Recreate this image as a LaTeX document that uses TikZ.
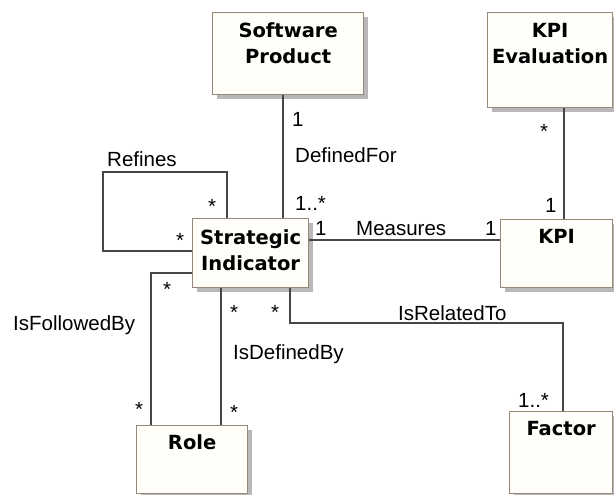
\documentclass[tikz,border=0pt]{standalone}
\usepackage{fontspec}
\setmainfont{Liberation Sans}
\newfontfamily\ttlfont{DejaVu Sans}
\usetikzlibrary{shadows}
\definecolor{clsfill}{RGB}{255,254,249}
\definecolor{clsline}{RGB}{150,135,120}
\definecolor{assocline}{RGB}{70,70,70}

\begin{document}
\begin{tikzpicture}[x=1pt,y=-1pt,font=\fontsize{20.5}{24}\selectfont,
  cls/.style={draw=clsline,line width=1.3pt,fill=clsfill,anchor=north west,inner sep=0pt,
    general shadow={fill=black!28,shadow xshift=4pt,shadow yshift=-4pt}},
  ttl/.style={font=\ttlfont\bfseries\fontsize{19.5}{26}\selectfont,align=center,anchor=north,inner sep=0pt},
  lbl/.style={anchor=base west,inner sep=0pt},
  assoc/.style={draw=assocline,line width=1.1pt}]
\useasboundingbox (0,0) rectangle (614,495);
% classes
\node[cls,minimum width=151,minimum height=82] (sp) at (212,12) {};
\node[ttl] (spt) at ([yshift=-10]sp.north) {Software\\Product};
\node[cls,minimum width=125,minimum height=95] (ke) at (487,12) {};
\node[ttl] (ket) at ([yshift=-11]ke.north) {KPI\\Evaluation};
\node[cls,minimum width=116,minimum height=69] (si) at (192,218) {};
\node[ttl] (sit) at ([yshift=-11]si.north) {Strategic\\Indicator};
\node[cls,minimum width=112,minimum height=68] (kpi) at (500,219) {};
\node[ttl] (kpit) at ([yshift=-10]kpi.north) {KPI};
\node[cls,minimum width=111,minimum height=68] (role) at (136,425) {};
\node[ttl] (rolet) at ([yshift=-9]role.north) {Role};
\node[cls,minimum width=103,minimum height=82] (fac) at (509,411) {};
\node[ttl] (fact) at ([yshift=-10]fac.north) {Factor};
% associations
\draw[assoc] (si.north -| 227,0) |- (103,172) |- (si.west |- 0,251);
\draw[assoc] (sp.south -| 283,0) -- (si.north -| 283,0);
\draw[assoc] (ke.south -| 564,0) -- (kpi.north -| 564,0);
\draw[assoc] (si.east |- 0,240) -- (kpi.west |- 0,240);
\draw[assoc] (si.west |- 0,273) -| (role.north -| 151,0);
\draw[assoc] (si.south -| 221,0) -- (role.north -| 221,0);
\draw[assoc] (si.south -| 290,0) |- (563,323) -- (fac.north -| 563,0);
% labels and multiplicities
\node[lbl] (lrf) at (107,167) {Refines};
\node[lbl] (mrf1) at (208,213) {*};
\node[lbl] (mrf2) at (176,247) {*};
\node[lbl] (mdf1) at (292,127) {1};
\node[lbl] (ldf) at (295,163) {DefinedFor};
\node[lbl] (mdf2) at (295,210) {1..*};
\node[lbl] (mms1) at (315,235) {1};
\node[lbl] (lms) at (356,235) {Measures};
\node[lbl] (mms2) at (485,235) {1};
\node[lbl] (mke1) at (540,139) {*};
\node[lbl] (mke2) at (545,212) {1};
\node[lbl] (lfb) at (13,330) {IsFollowedBy};
\node[lbl] (mfb1) at (163,296) {*};
\node[lbl] (mfb2) at (135,416) {*};
\node[lbl] (ldb) at (233,359) {IsDefinedBy};
\node[lbl] (mdb1) at (230,319) {*};
\node[lbl] (mdb2) at (230,419) {*};
\node[lbl] (lrt) at (398,320) {IsRelatedTo};
\node[lbl] (mrt1) at (271,319) {*};
\node[lbl] (mrt2) at (518,407) {1..*};
\end{tikzpicture}
\end{document}
